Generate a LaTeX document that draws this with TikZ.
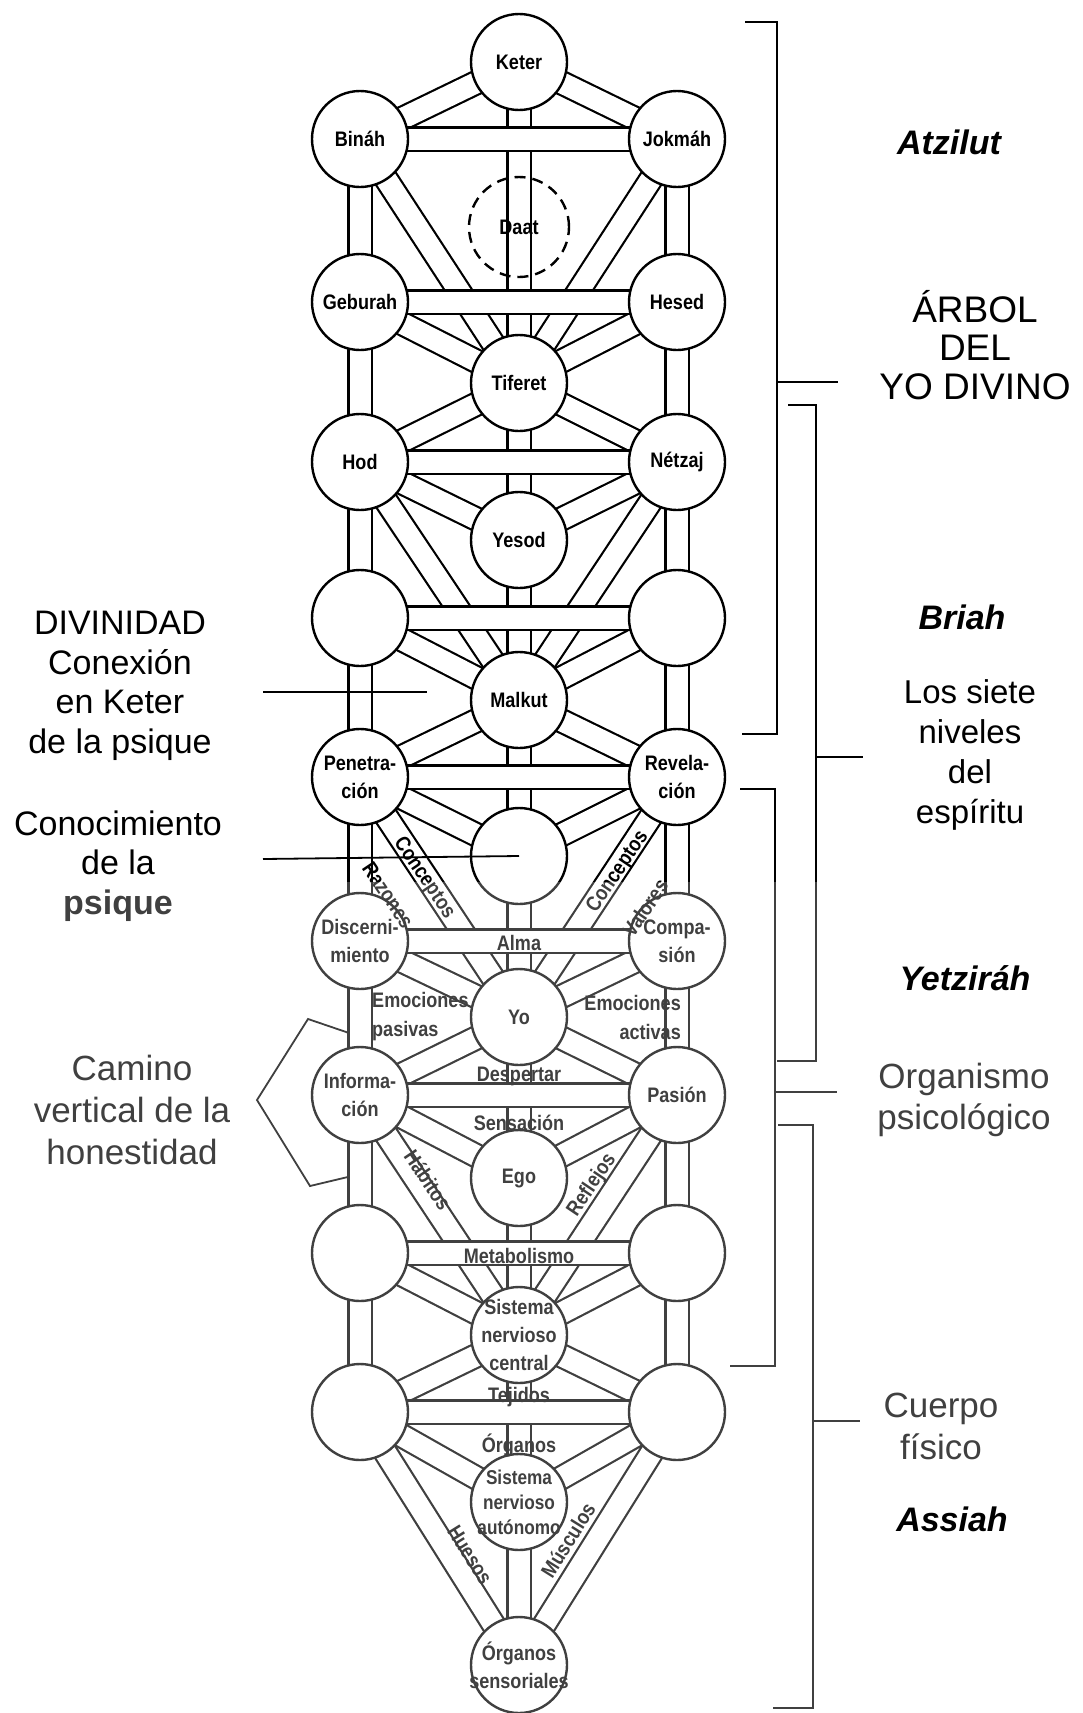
\documentclass[tikz,border=0pt]{standalone}
\usepackage{fontspec}
\setmainfont{Liberation Sans}
\newfontfamily\estrecha{Liberation Sans}[FakeStretch=0.86]
\usetikzlibrary{backgrounds}
\pgfdeclarelayer{foreground}
\pgfsetlayers{background,main,foreground}

\begin{document}
\begin{tikzpicture}[x=1pt,y=-1pt,
	sefira/.style={draw,circle,line width=2.4pt,fill=white,minimum size=96pt,inner sep=0pt,align=center,font=\estrecha\bfseries\fontsize{21}{28}\selectfont},
	txtcirc/.style={inner sep=0pt,align=center,font=\estrecha\bfseries\fontsize{21}{28}\selectfont},
	oculta/.style={sefira,fill=none,minimum size=100pt,dash pattern=on 11pt off 7pt},
	canal/.style={line width=2.2pt,double=white,double distance=21pt},
	sendero/.style={inner sep=0pt,align=center,font=\estrecha\bfseries\fontsize{21}{29}\selectfont},
	rotulo/.style={inner sep=0pt,align=center,font=\fontsize{34}{39.5}\selectfont},
	mundo/.style={inner sep=0pt,font=\bfseries\itshape\fontsize{34}{39}\selectfont},
	llave/.style={line width=1.8pt}]
			\useasboundingbox (0,0) rectangle (1082,1713);
			\node[oculta] (daat)at(519,227) {Daat};
			\node[sefira] (keter)at(519,62) {Keter};
			\node[sefira] (binah)at(360,139) {Bináh};
			\node[sefira] (jokmah)at(677,139) {Jokmáh};
			\node[sefira] (geburah)at(360,302) {Geburah};
			\node[sefira] (hesed)at(677,302) {Hesed};
			\node[sefira] (tiferet)at(519,383) {Tiferet};
			\node[sefira] (hod)at(360,462) {Hod};
			\node[sefira] (netzaj)at(677,462) {Nétzaj};
			\node[sefira] (yesod)at(519,540) {Yesod};
			\node[sefira] (izq3)at(360,618) {};
			\node[sefira] (der3)at(677,618) {};
			\node[sefira] (malkut)at(519,700) {Malkut};
			\node[sefira,label={[txtcirc]center:{Penetra-\\ción}}] (penetracion)at(360,777) {};
			\node[sefira,label={[txtcirc]center:{Revela-\\ción}}] (revelacion)at(677,777) {};
			\node[sefira] (conoc)at(519,856) {};
			\node[sefira,label={[txtcirc]center:{Discerni-\\miento}}] (discern)at(360,941) {};
			\node[sefira,label={[txtcirc]center:{Compa-\\sión}}] (compas)at(677,941) {};
			\node[sefira] (yo)at(519,1017) {Yo};
			\node[sefira,label={[txtcirc]center:{Informa-\\ción}}] (inform)at(360,1095) {};
			\node[sefira] (pasion)at(677,1095) {Pasión};
			\node[sefira] (ego)at(519,1178) {Ego};
			\node[sefira] (izq7)at(360,1253) {};
			\node[sefira] (der7)at(677,1253) {};
			\node[sefira,label={[txtcirc]center:{Sistema\\nervioso\\central}}] (snc)at(519,1335) {};
			\node[sefira] (izq8)at(360,1412) {};
			\node[sefira] (der8)at(677,1412) {};
			\node[sefira,label={[txtcirc,font=\estrecha\bfseries\fontsize{20}{25}\selectfont]center:{Sistema\\nervioso\\autónomo}}] (sna)at(519,1502) {};
			\node[sefira,label={[txtcirc]center:{Órganos\\sensoriales}}] (organos)at(519,1665) {};
			\begin{pgfonlayer}{background}
			\draw[llave] (352,1034) -- (308,1019) -- (257,1100) -- (310,1186) -- (352,1176);
			\draw[canal] (keter.center) -- (binah.center);
			\draw[canal] (keter.center) -- (jokmah.center);
			\draw[canal] (binah.center) -- (tiferet.center);
			\draw[canal] (jokmah.center) -- (tiferet.center);
			\draw[canal] (geburah.center) -- (tiferet.center);
			\draw[canal] (hesed.center) -- (tiferet.center);
			\draw[canal] (tiferet.center) -- (hod.center);
			\draw[canal] (tiferet.center) -- (netzaj.center);
			\draw[canal] (hod.center) -- (yesod.center);
			\draw[canal] (netzaj.center) -- (yesod.center);
			\draw[canal] (hod.center) -- (malkut.center);
			\draw[canal] (netzaj.center) -- (malkut.center);
			\draw[canal] (izq3.center) -- (malkut.center);
			\draw[canal] (der3.center) -- (malkut.center);
			\draw[canal] (malkut.center) -- (penetracion.center);
			\draw[canal] (malkut.center) -- (revelacion.center);
			\draw[canal] (penetracion.center) -- (conoc.center);
			\draw[canal] (revelacion.center) -- (conoc.center);
			\draw[canal] (penetracion.center) -- (yo.center);
			\draw[canal] (revelacion.center) -- (yo.center);
			\draw[canal] (discern.center) -- (yo.center);
			\draw[canal] (compas.center) -- (yo.center);
			\draw[canal] (yo.center) -- (inform.center);
			\draw[canal] (yo.center) -- (pasion.center);
			\draw[canal] (inform.center) -- (ego.center);
			\draw[canal] (pasion.center) -- (ego.center);
			\draw[canal] (inform.center) -- (snc.center);
			\draw[canal] (pasion.center) -- (snc.center);
			\draw[canal] (izq7.center) -- (snc.center);
			\draw[canal] (der7.center) -- (snc.center);
			\draw[canal] (snc.center) -- (izq8.center);
			\draw[canal] (snc.center) -- (der8.center);
			\draw[canal] (izq8.center) -- (sna.center);
			\draw[canal] (der8.center) -- (sna.center);
			\draw[canal] (izq8.center) -- (organos.center);
			\draw[canal] (der8.center) -- (organos.center);
			\draw[canal] (keter.center) -- (organos.center);
			\draw[canal] (binah.center) -- (izq8.center);
			\draw[canal] (jokmah.center) -- (der8.center);
			\draw[canal] (binah.center) -- (jokmah.center);
			\draw[canal] (geburah.center) -- (hesed.center);
			\draw[canal] (hod.center) -- (netzaj.center);
			\draw[canal] (izq3.center) -- (der3.center);
			\draw[canal] (penetracion.center) -- (revelacion.center);
			\draw[canal] (discern.center) -- (compas.center);
			\draw[canal] (inform.center) -- (pasion.center);
			\draw[canal] (izq7.center) -- (der7.center);
			\draw[canal] (izq8.center) -- (der8.center);
			\end{pgfonlayer}
			\node[sendero] (alma)at(519,943) {Alma};
			\node[sendero,align=left,anchor=west] (emopas)at(372,1017) {Emociones\\pasivas};
			\node[sendero,align=right,anchor=east] (emoact)at(681,1017) {Emociones\\activas};
			\node[sendero] (despertar)at(519,1076) {Despertar};
			\node[sendero] (sensacion)at(519,1123) {Sensación};
			\node[sendero] (metab)at(519,1256) {Metabolismo};
			\node[sendero] (tejidos)at(519,1397) {Tejidos};
			\node[sendero] (organosb)at(519,1445) {Órganos};
			\node[sendero,rotate=-56] (concizq)at(424,878) {Conceptos};
			\node[sendero,rotate=-56] (razones)at(388,895) {Razones};
			\node[sendero,rotate=56] (concder)at(618,872) {Conceptos};
			\node[sendero,rotate=56] (valores)at(645,908) {Valores};
			\node[sendero,rotate=-56] (habitos)at(428,1180) {Hábitos};
			\node[sendero,rotate=56] (reflejos)at(592,1185) {Reflejos};
			\node[sendero,rotate=-58] (huesos)at(470,1555) {Huesos};
			\node[sendero,rotate=58] (musculos)at(568,1540) {Músculos};
			\node[rotulo] (divinidad)at(120,686) {DIVINIDAD\\Conexión\\en Keter\\de la psique};
			\node[rotulo] (conocim)at(118,866) {Conocimiento\\de la\\{\bfseries psique}};
			\node[rotulo,font=\fontsize{35}{42}\selectfont] (camino)at(132,1110) {Camino\\vertical de la\\honestidad};
			\node[mundo] (atzilut)at(949,142) {Atzilut};
			\node[rotulo,font=\fontsize{37}{38.5}\selectfont] (arbol)at(975,345) {ÁRBOL\\DEL\\YO DIVINO};
			\node[mundo] (briah)at(962,617) {Briah};
			\node[rotulo,font=\fontsize{33}{40}\selectfont] (siete)at(970,755) {Los siete\\niveles\\del\\espíritu};
			\node[rotulo,font=\fontsize{35}{41}\selectfont] (organismo)at(964,1100) {Organismo\\psicológico};
			\node[rotulo,font=\fontsize{35}{42}\selectfont] (cuerpo)at(941,1426) {Cuerpo\\físico};
			\coordinate (divA)at(263,692);
			\coordinate (divB)at(427,692);
			\coordinate (conA)at(263,859);
			\draw[llave] (divA) -- (divB);
			\draw[llave] (conA) -- (conoc.center);
			\draw[llave] (745,22) -- (777,22) -- (777,734) -- (742,734);
			\draw[llave] (777,382) -- (838,382);
			\draw[llave] (788,405) -- (816,405) -- (816,1061) -- (777,1061);
			\draw[llave] (816,757) -- (863,757);
			\draw[llave] (740,789) -- (775,789) -- (775,1366) -- (730,1366);
			\draw[llave] (775,1092) -- (837,1092);
			\draw[llave] (778,1125) -- (813,1125) -- (813,1708) -- (773,1708);
			\draw[llave] (813,1421) -- (860,1421);
			\begin{pgfonlayer}{foreground}
			\fill[white,fill opacity=0.25] (0,882) rectangle (1082,1713);
			\node[mundo] (yetzirah)at(965,978) {Yetziráh};
			\node[mundo] (assiah)at(952,1519) {Assiah};
			\end{pgfonlayer}
		\end{tikzpicture}
\end{document}
